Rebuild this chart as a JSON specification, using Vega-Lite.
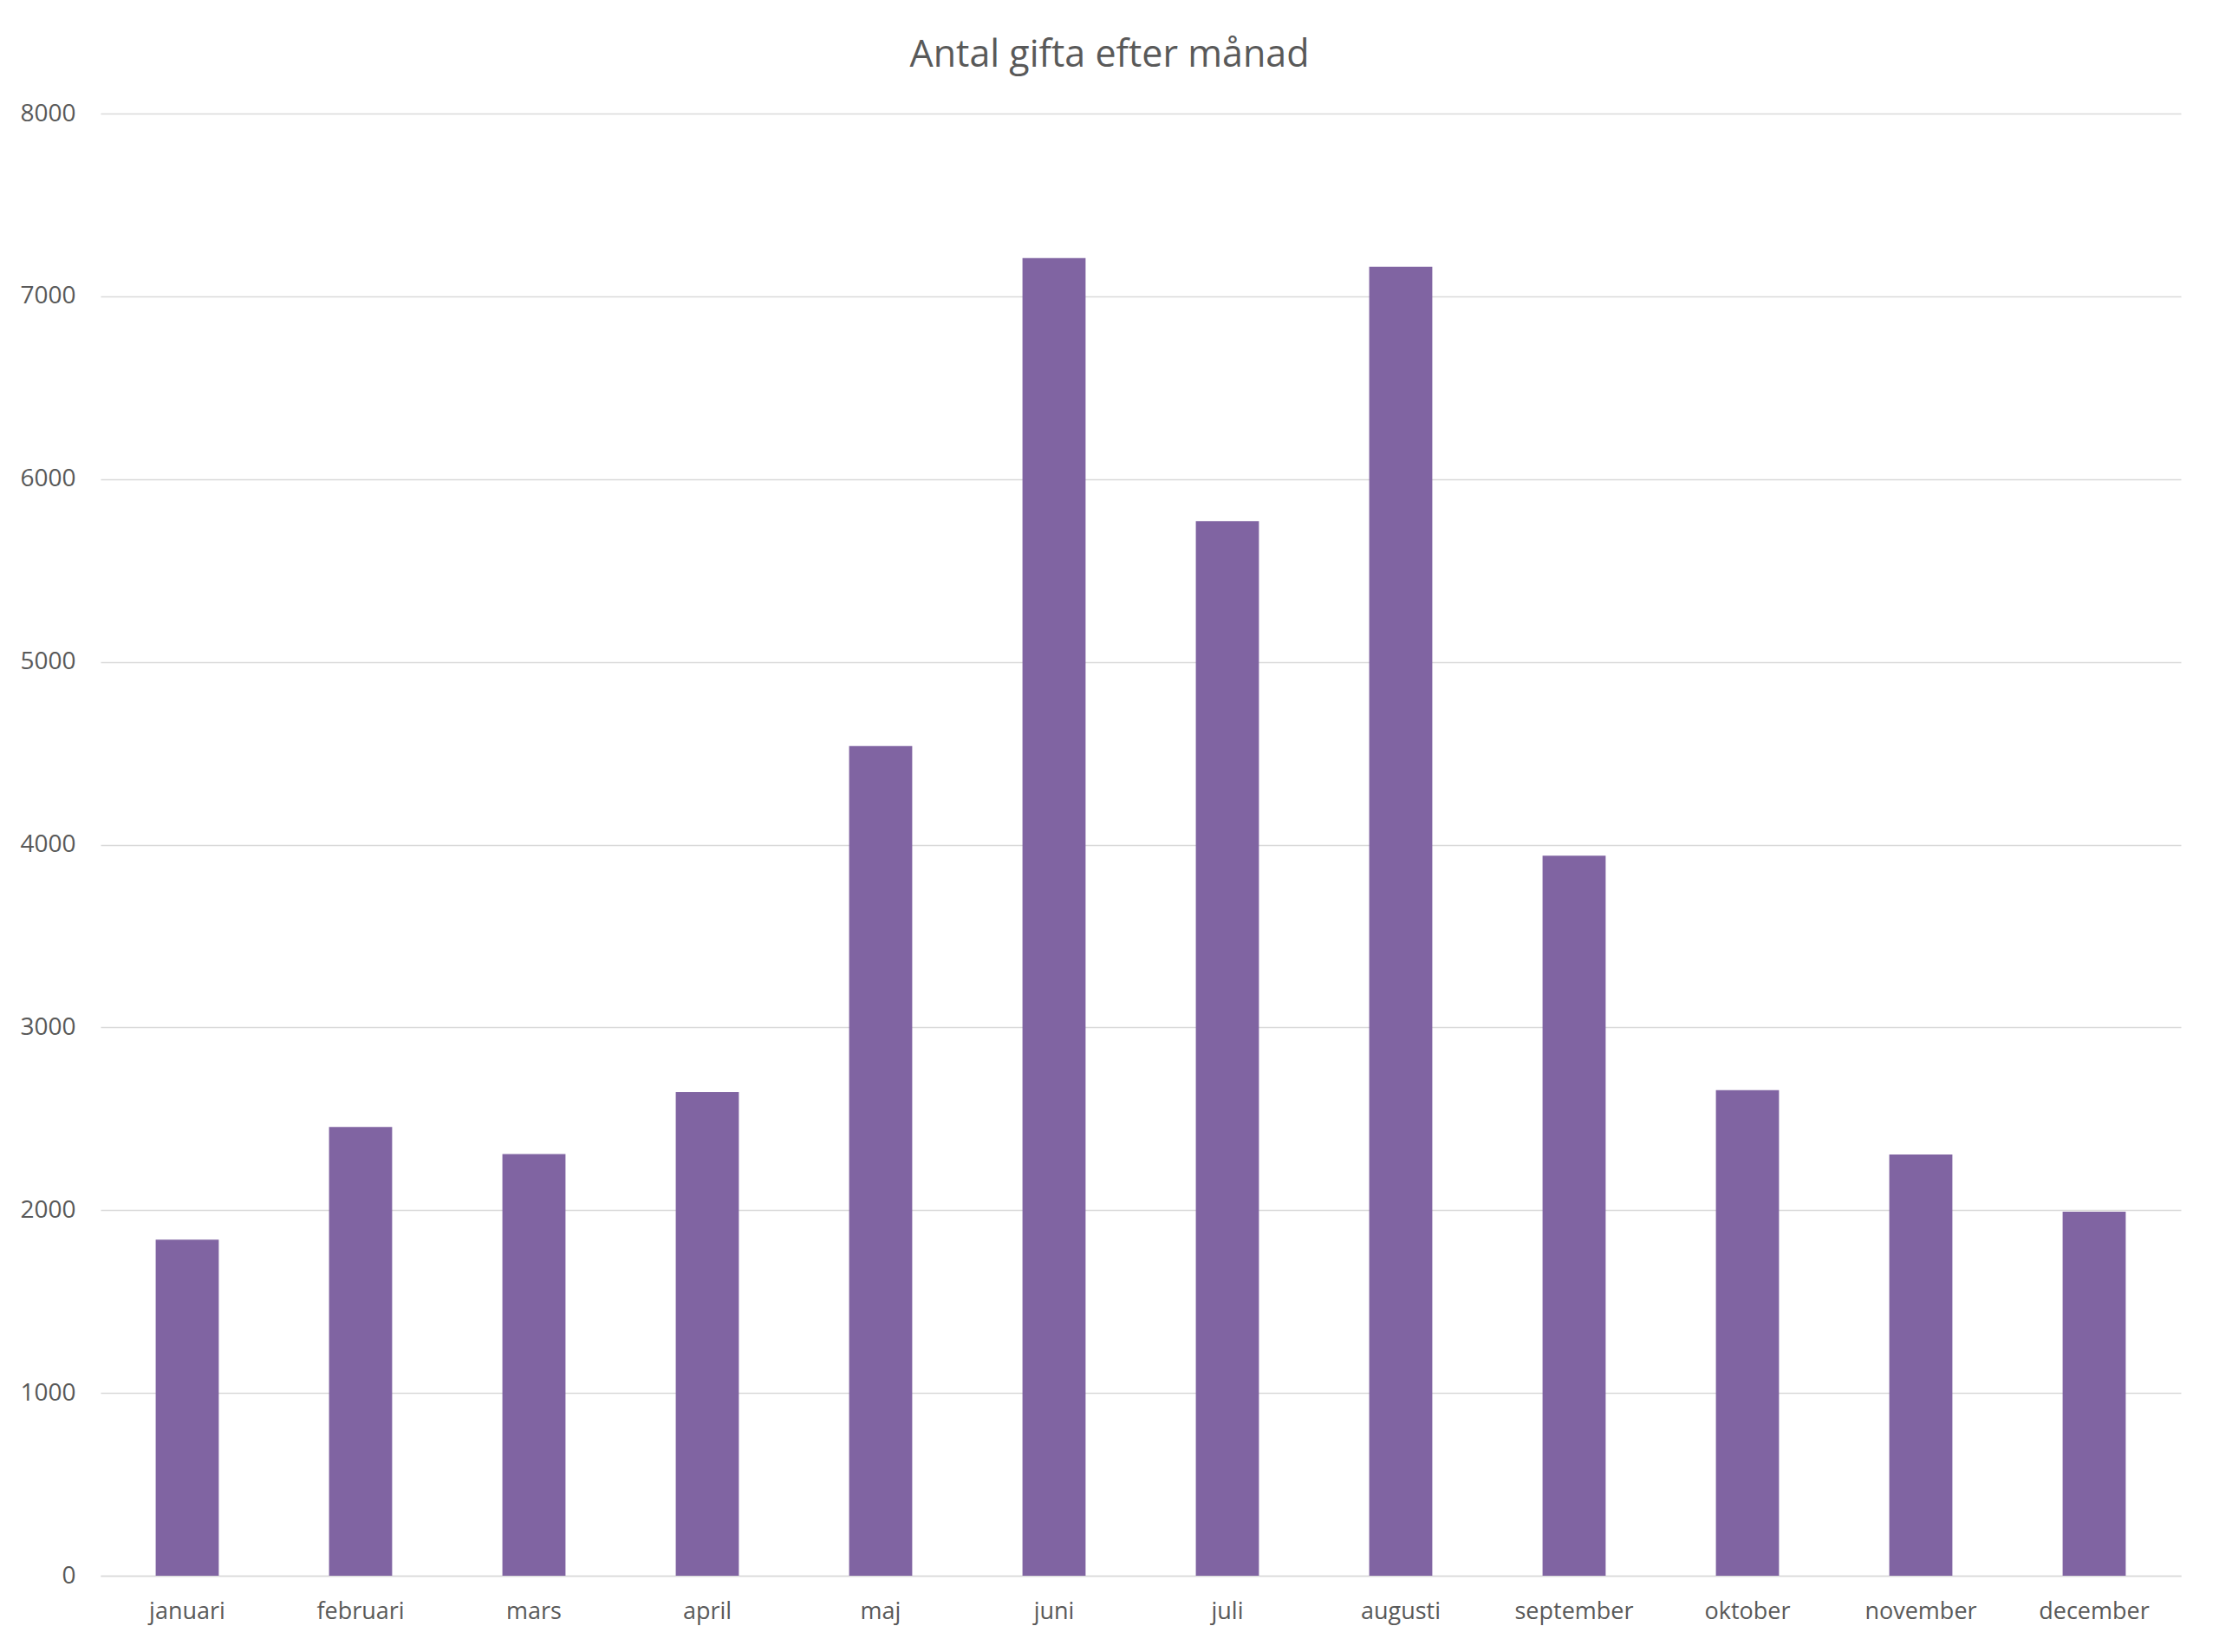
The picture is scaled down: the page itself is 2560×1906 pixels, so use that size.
{
  "$schema": "https://vega.github.io/schema/vega-lite/v6.json",
  "autosize": {"type": "none"},
  "width": 2400,
  "height": 1687,
  "padding": {"left": 116, "top": 131, "right": 44, "bottom": 88},
  "background": "white",
  "title": {
    "text": "Antal gifta efter månad",
    "font": "Open Sans",
    "fontSize": 43,
    "fontWeight": "normal",
    "color": "#595959",
    "anchor": "middle",
    "dx": -36,
    "offset": 31
  },
  "data": {
    "values": [
      {"månad": "januari", "antal": 1839},
      {"månad": "februari", "antal": 2455},
      {"månad": "mars", "antal": 2307},
      {"månad": "april", "antal": 2646},
      {"månad": "maj", "antal": 4540},
      {"månad": "juni", "antal": 7209},
      {"månad": "juli", "antal": 5770},
      {"månad": "augusti", "antal": 7162},
      {"månad": "september", "antal": 3940},
      {"månad": "oktober", "antal": 2657},
      {"månad": "november", "antal": 2305},
      {"månad": "december", "antal": 1992}
    ]
  },
  "mark": {"type": "bar", "color": "#8064a2"},
  "encoding": {
    "x": {
      "field": "månad",
      "type": "nominal",
      "sort": null,
      "scale": {"paddingInner": 0.636, "paddingOuter": 0.318},
      "axis": {
        "title": null,
        "labelAngle": 0,
        "labelFont": "Open Sans",
        "labelFontSize": 27,
        "labelColor": "#595959",
        "labelPadding": 28,
        "ticks": false,
        "domain": true,
        "domainColor": "#d9d9d9",
        "domainWidth": 1.6,
        "grid": false
      }
    },
    "y": {
      "field": "antal",
      "type": "quantitative",
      "scale": {"domain": [0, 8000], "nice": false},
      "axis": {
        "title": null,
        "values": [0, 1000, 2000, 3000, 4000, 5000, 6000, 7000, 8000],
        "format": "d",
        "labelFont": "Open Sans",
        "labelFontSize": 28,
        "labelColor": "#595959",
        "labelPadding": 29,
        "ticks": false,
        "domain": false,
        "grid": true,
        "gridColor": "#d9d9d9",
        "gridWidth": 1.6
      }
    }
  },
  "config": {
    "view": {"stroke": null}
  }
}
